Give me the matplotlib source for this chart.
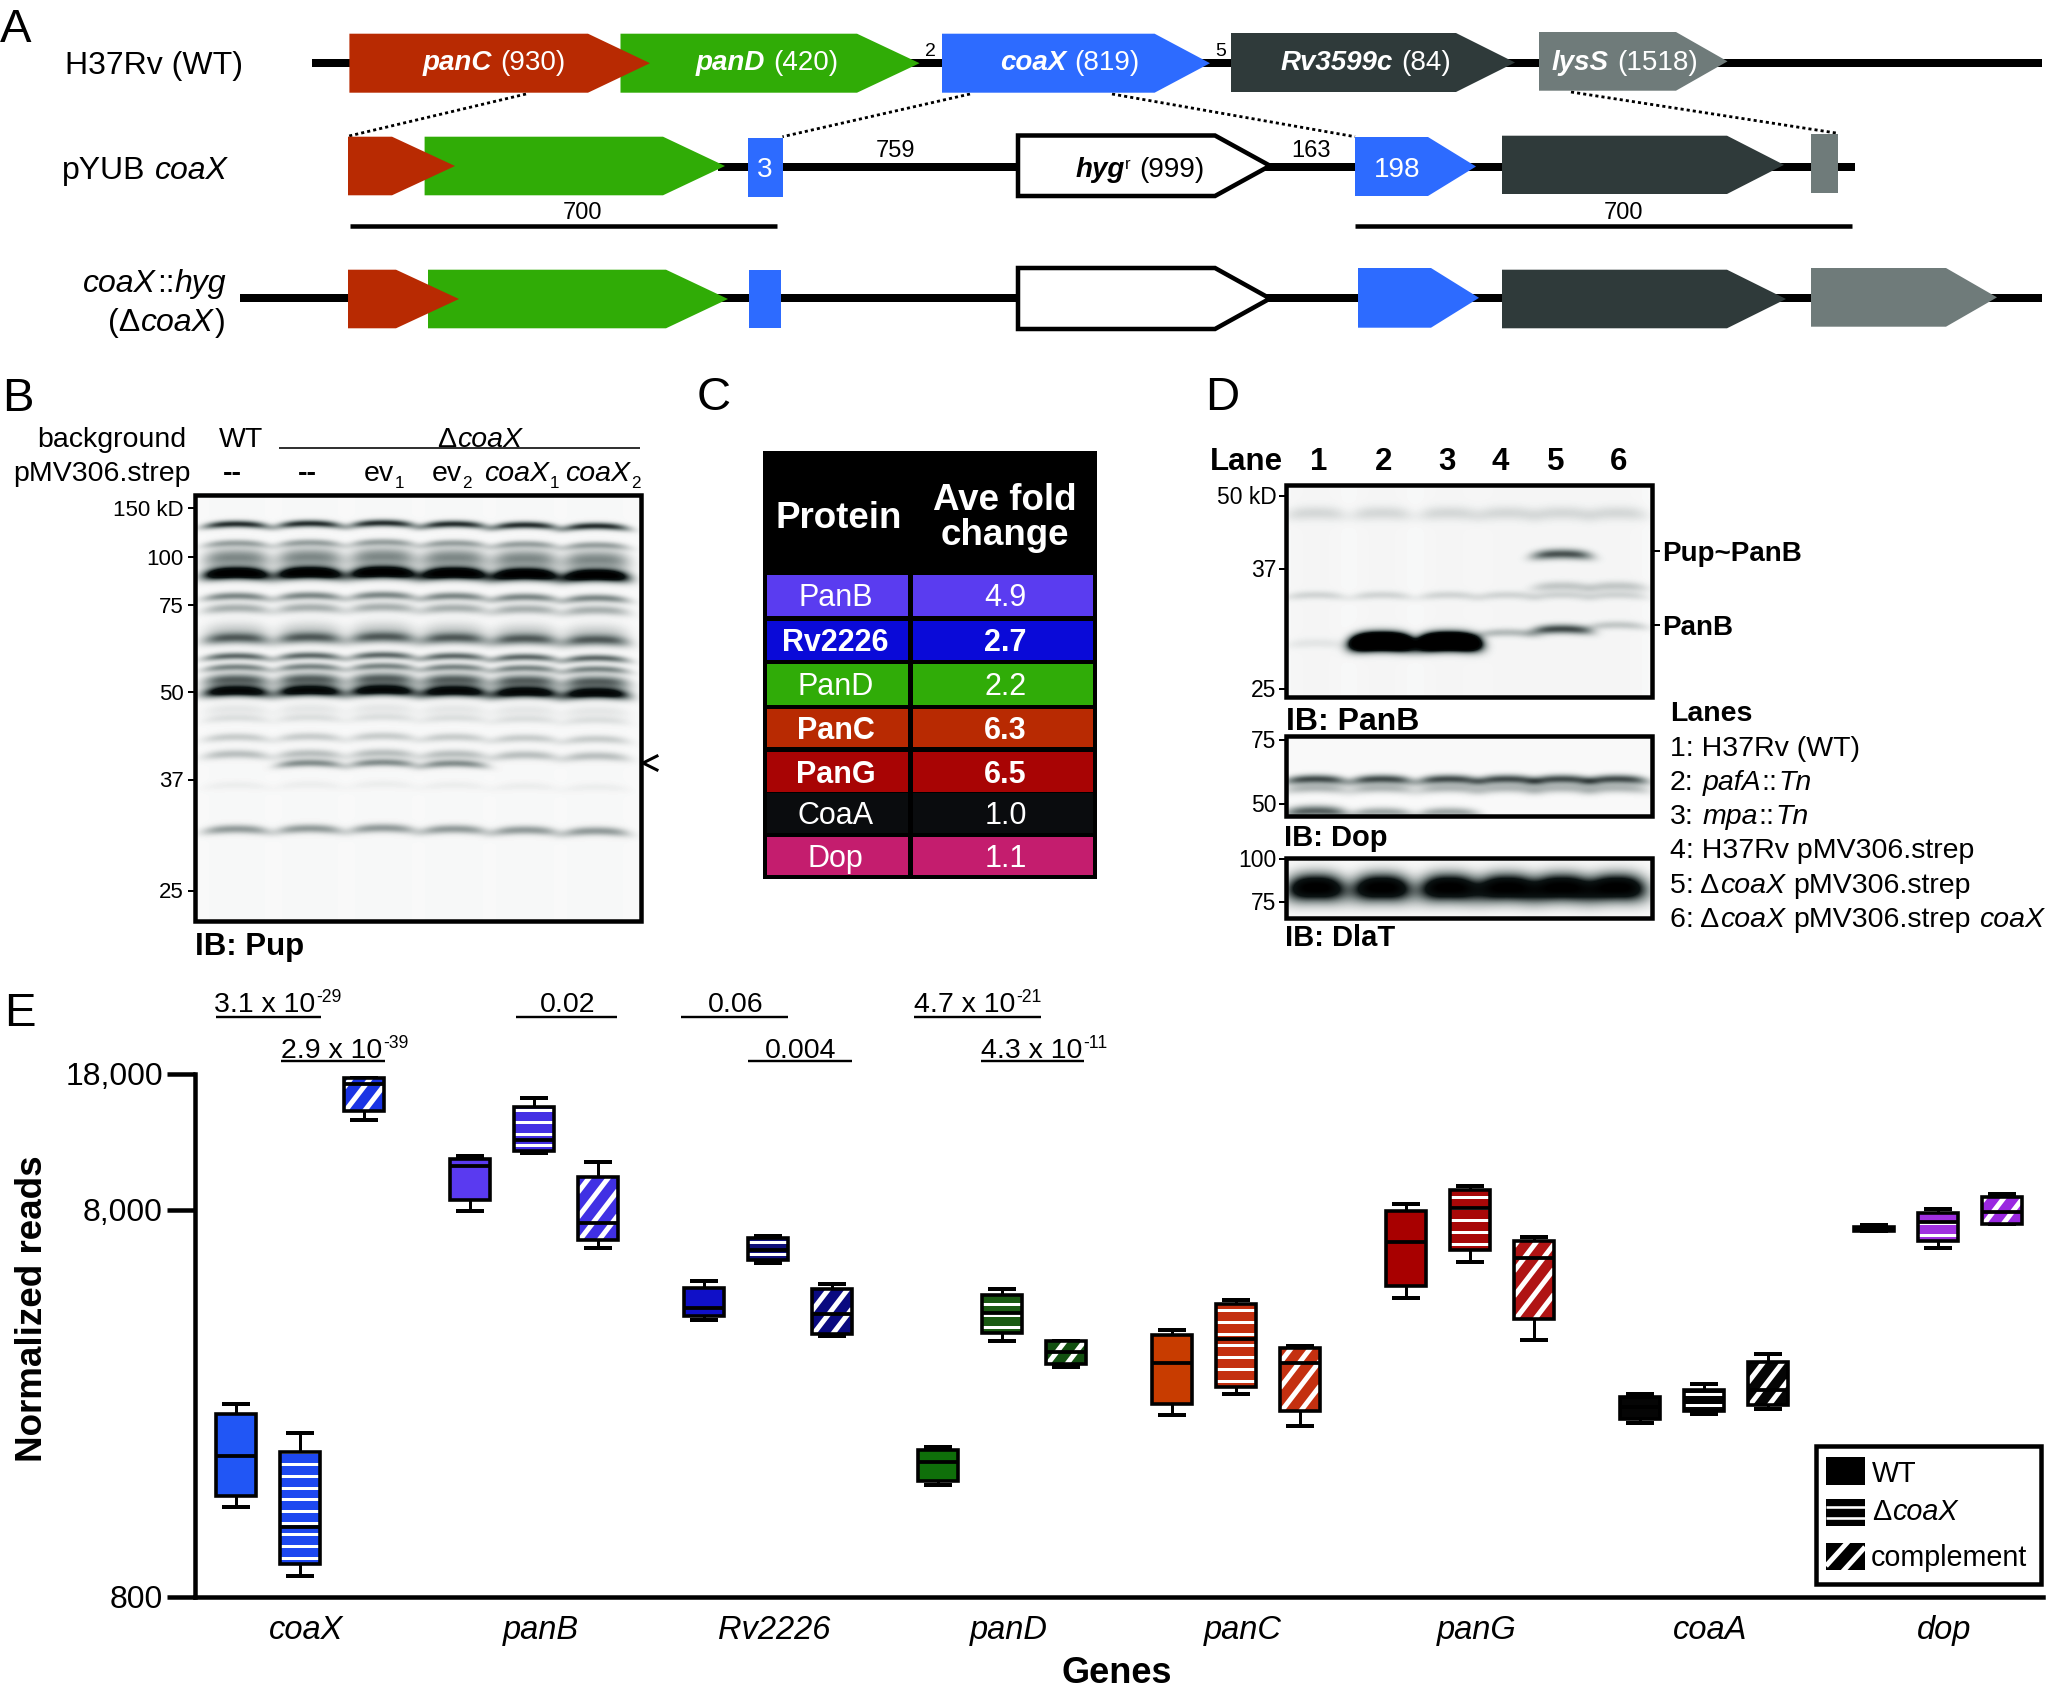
import numpy as np
import matplotlib
matplotlib.use('Agg')
import matplotlib.pyplot as plt
from matplotlib.patches import Polygon, Rectangle, PathPatch
from matplotlib.transforms import IdentityTransform
from matplotlib.colors import LinearSegmentedColormap

plt.rcParams['font.family'] = ['Liberation Sans', 'DejaVu Sans']

# ---------- panel E data: [whisker low, Q1, median, Q3, whisker high] for WT, deltaCoaX, complement
gene_names = ['coaX', 'panB', 'Rv2226', 'panD', 'panC', 'panG', 'coaA', 'dop']
coaX_reads = [[1368, 1462, 1854, 2377, 2523], [906, 975, 1216, 1892, 2128], [13700, 14450, 16900, 17540, 17540]]
panB_reads = [[7930, 8490, 10380, 10860, 11020], [11200, 11350, 12130, 14750, 15600], [6380, 6680, 7400, 9750, 10620]]
Rv2226_reads = [[4150, 4250, 4470, 5020, 5250], [5850, 5940, 6310, 6760, 6870], [3770, 3830, 4300, 5000, 5160]]
panD_reads = [[1556, 1596, 1782, 1923, 1950], [3673, 3846, 4325, 4820, 5000], [3148, 3199, 3443, 3673, 3680]]
panC_reads = [[2366, 2518, 3228, 3802, 3917], [2679, 2799, 3707, 4571, 4677], [2213, 2421, 3228, 3524, 3556]]
panG_reads = [[4753, 5082, 6622, 7962, 8279], [5861, 6324, 8110, 9036, 9204], [3681, 4178, 5998, 6668, 6808]]
coaA_reads = [[2259, 2301, 2472, 2624, 2673], [2377, 2415, 2553, 2742, 2838], [2449, 2500, 2735, 3243, 3396]]
dop_reads = [[7079, 7079, 7161, 7244, 7328], [6368, 6653, 7464, 7870, 8054], [7345, 7345, 7925, 8650, 8810]]
all_reads = [coaX_reads, panB_reads, Rv2226_reads, panD_reads, panC_reads, panG_reads, coaA_reads, dop_reads]
box_colors = [['#2156f5', '#1e48f0', '#1a34e4'], ['#5a3af0', '#4430e4', '#4030e4'],
              ['#1010c8', '#10107a', '#0a0a80'], ['#0f6f0a', '#1a5a12', '#125010'],
              ['#c83c00', '#c43010', '#c43010'], ['#a80000', '#a80808', '#b01414'],
              ['#050505', '#050505', '#050505'], ['#111111', '#a030e0', '#9a28e0']]
y_ticks = [800, 8000, 18000]
y_tick_labels = ['800', '8,000', '18,000']

# ---------- panel C data
table_proteins = ['PanB', 'Rv2226', 'PanD', 'PanC', 'PanG', 'CoaA', 'Dop']
table_folds = ['4.9', '2.7', '2.2', '6.3', '6.5', '1.0', '1.1']
table_bold = [False, True, False, True, True, False, False]
table_colors = ['#5a3cf0', '#0a0ad8', '#30ac08', '#b82a02', '#a80404', '#0a0c0e', '#c41d6e']

# ---------- blot data: centre row (figure pixels), density, spread, lanes (None = all)
pup_bands = [(524, .58, 2.6, None), (543, .24, 2.6, None), (557.5, .34, 6.5, None), (573, 1.1, 4.2, None),
             (596, .34, 2.8, None), (608, .22, 3.4, None), (630, .12, 6, None), (638, .42, 4, None),
             (656, .42, 2.6, None), (667, .34, 2.6, None), (678, .16, 3.5, None), (681, .32, 5, None),
             (691, .85, 3.8, None), (709, .05, 4, None), (718, .07, 3, None), (737, .13, 3, None),
             (754, .17, 3.2, None), (763.4, .32, 2.8, [1, 2, 3]), (785, .03, 3, None), (829, .28, 3.2, None)]
panb_bands = [(513, .09, 5, None), (595, .1, 3, None), (554, .48, 3.6, [4]), (586, .14, 3.5, [4, 5]),
              (641.4, 2.6, 5.5, [1, 2]), (632.5, .18, 3, [3]), (629, .5, 3.4, [4]), (625, .14, 3, [5]),
              (643, .05, 3.5, [0])]
dop_bands = [(779, .5, 3.2, None), (788, .2, 3.5, None), (811, .45, 4, [0]), (812, .25, 3.5, [1, 2])]
dlat_bands = [(888, 1.05, 9.5, None)]

W, H = 2048, 1697
fig = plt.figure(figsize=(W / 100, H / 100), dpi=100, facecolor='white')
ov = fig.add_axes([0, 0, 1, 1], zorder=5)
ov.set_xlim(0, W); ov.set_ylim(H, 0); ov.axis('off')
rend = fig.canvas.get_renderer()
L = lambda px: px * 0.72

STY = {'r': dict(), 'i': dict(style='italic'), 'b': dict(weight='bold'),
       'bi': dict(weight='bold', style='italic')}


def runs(x, y, segs, size, ha='left', color='k', target=ov, z=6):
    """Write mixed-style text whose cap-height centre sits on y."""
    px = size / 0.72
    items = []
    total = 0
    for s in segs:
        txt, sty = s[0], s[1]
        sc = s[2] if len(s) > 2 else 1
        dy = s[3] if len(s) > 3 else 0
        lead = .278 * px * (len(txt) - len(txt.lstrip(' ')))
        trail = .278 * px * (len(txt) - len(txt.rstrip(' ')))
        t = target.text(0, 0, txt.strip(), fontsize=size * sc, **STY[sty])
        w = t.get_window_extent(rend).width
        t.remove()
        items.append((txt.strip(), sty, sc, dy, lead, w))
        total += lead + w + trail + .02 * px
    cx = {'left': x, 'center': x - total / 2, 'right': x - total}[ha]
    base = y + .358 * px
    for (txt, sty, sc, dy, lead, w), s in zip(items, segs):
        cx += lead
        target.text(cx, base + dy, txt, fontsize=size * sc, color=color, ha='left', va='baseline', zorder=z, **STY[sty])
        raw = s[0]
        cx += w + .02 * px + .278 * px * (len(raw) - len(raw.rstrip(' ')))


def gene(x0, sh, tip, y0, y1, c, z=3, ec='none', lw=0):
    ov.add_patch(Polygon([(x0, y0), (sh, y0), (tip, (y0 + y1) / 2), (sh, y1), (x0, y1)], closed=True,
                         facecolor=c, edgecolor=ec, linewidth=L(lw), zorder=z, joinstyle='miter'))


def rect(x0, y0, x1, y1, fc='none', ec='none', lw=0, z=3):
    p = Rectangle((x0, y0), x1 - x0, y1 - y0, facecolor=fc, edgecolor=ec, linewidth=L(lw), zorder=z,
                  joinstyle='miter')
    ov.add_patch(p)
    return p


def hline(x0, x1, y, lw, c='k', z=2, **k):
    ov.plot([x0, x1], [y, y], color=c, lw=L(lw), zorder=z, solid_capstyle='butt', **k)


RED, GRN, BLU, DRK, GRY = '#b82a02', '#30ac06', '#2d6bff', '#2f3a3a', '#6f7b7a'

# ---------- panel A
for txt, x, y in [('A', 0, 25), ('B', 2, 394), ('C', 697, 393), ('D', 1205, 393), ('E', 4, 1009)]:
    runs(x, y, [(txt, 'r')], 34)

hline(312, 2042, 63.3, 8)
gene(620.5, 857, 919.6, 33.7, 92.7, GRN, z=3)
gene(349.4, 588, 650, 33.7, 92.7, RED, z=4)
gene(942, 1154.6, 1210, 33.7, 92.7, BLU)
gene(1231, 1456, 1515, 33, 92, DRK)
gene(1539, 1676, 1727.5, 32, 90.7, GRY)
AS = 20
runs(494, 60, [('panC', 'bi'), (' (930)', 'r')], AS, 'center', 'w')
runs(767, 60, [('panD', 'bi'), (' (420)', 'r')], AS, 'center', 'w')
runs(1070, 60, [('coaX', 'bi'), (' (819)', 'r')], AS, 'center', 'w')
runs(1366, 60, [('Rv3599c', 'bi'), (' (84)', 'r')], AS, 'center', 'w')
runs(1625, 60, [('lysS', 'bi'), (' (1518)', 'r')], AS, 'center', 'w')
runs(931, 49, [('2', 'r')], 14, 'center')
runs(1221, 49, [('5', 'r')], 14, 'center')
runs(65, 63, [('H37Rv (WT)', 'r')], 23)
runs(62, 168, [('pYUB ', 'r'), ('coaX', 'i')], 23)
runs(227, 281, [('coaX', 'i'), ('::', 'r'), ('hyg', 'i')], 23, 'right')
runs(226, 320, [('(Δ', 'r'), ('coaX', 'i'), (')', 'r')], 23, 'right')

hline(718, 1855, 167, 8)
gene(424.6, 663, 725, 136.7, 195.3, GRN, z=3)
gene(348, 392, 455, 136.7, 195.3, RED, z=4)
rect(748, 137.7, 782.5, 196.7, fc=BLU)
runs(765, 167, [('3', 'r')], AS, 'center', 'w')
gene(1018, 1215, 1270, 135.5, 196, 'w', ec='k', lw=4.5)
runs(1140, 167, [('hyg', 'bi'), ('r', 'r', .6, -8), (' (999)', 'r')], AS, 'center')
runs(896, 149, [('759', 'r')], 17, 'center')
runs(1311, 149, [('163', 'r')], 17, 'center')
gene(1355, 1428, 1476, 137, 196, BLU)
runs(1397.6, 167, [('198', 'r')], AS, 'center', 'w')
gene(1502, 1727, 1784, 135.7, 194, DRK)
rect(1811, 134, 1838, 192.7, fc=GRY)
hline(350, 777, 225.7, 4.5)
hline(1355, 1852, 225.7, 4.5)
runs(583, 210.7, [('700', 'r')], 17, 'center')
runs(1624, 210.7, [('700', 'r')], 17, 'center')
for a, b in [((526, 94), (349, 136)), ((970, 94), (782.5, 136.7)), ((1112, 94), (1355, 136.7)), ((1571, 92), (1836, 133))]:
    ov.plot([a[0], b[0]], [a[1], b[1]], color='k', lw=L(2.8), ls=(0, (1.1, 1.1)), zorder=2)

hline(240, 2042, 298.3, 8)
gene(428, 666, 728, 269.7, 328.3, GRN, z=3)
gene(348, 396, 459, 269.7, 328.3, RED, z=4)
rect(749, 269.7, 781, 328.3, fc=BLU)
gene(1018, 1215, 1270, 268, 329, 'w', ec='k', lw=4.5)
gene(1358, 1431, 1479, 268, 327.7, BLU)
gene(1502, 1727, 1786, 269.7, 328.3, DRK)
gene(1811, 1946, 1997, 268, 326.7, GRY)

# ---------- blots
blot_cmap = LinearSegmentedColormap.from_list('blot', ['#fcfcfc', '#86908f', '#0c1414', '#000000'])


def blot(l, t, r, b, lanes, hw, bands, lane_dy=None, haze=0.0, frame=4.5, power=4, curve=.0025):
    xs = np.arange(l, r) + .5
    ys = np.arange(t, b) + .5
    X, Y = np.meshgrid(xs, ys)
    lane_dy = lane_dy or [0] * len(lanes)
    od = np.full(X.shape, .008)
    for i, c in enumerate(lanes):
        lat = np.exp(-(np.abs(X - c) / hw) ** power)
        od += haze * lat
        for y0, amp, sig, sel in bands:
            if sel is None or i in sel:
                dy = Y - y0 - lane_dy[i] - curve * (X - c) ** 2
                od += amp * lat * np.exp(-.5 * (dy / sig) ** 2)
    ov.imshow(np.clip(od, 0, 1), extent=(l, r, b, t), aspect='auto', cmap=blot_cmap, vmin=0, vmax=1, zorder=1,
              interpolation='bilinear')
    rect(l, t, r, b, ec='k', lw=frame, z=3)


# panel B
blot(195, 495, 641, 921, [236.6, 310, 383, 454, 525, 596], 33, pup_bands, lane_dy=[0, -.5, -1, 0, 1, 2], haze=.006)
FS = 20.5
runs(186.6, 437, [('background', 'r')], FS, 'right')
runs(191.5, 471, [('pMV306.strep', 'r')], FS, 'right')
runs(241, 437, [('WT', 'r')], FS, 'center')
runs(480, 437, [('Δ', 'r'), ('coaX', 'i')], FS, 'center')
hline(279, 640, 448, 1.6)
runs(233, 471, [('--', 'b')], FS, 'center')
runs(308, 471, [('--', 'b')], FS, 'center')
runs(384, 471, [('ev', 'r'), ('1', 'r', .6, 7)], FS, 'center')
runs(452, 471, [('ev', 'r'), ('2', 'r', .6, 7)], FS, 'center')
runs(522, 471, [('coaX', 'i'), ('1', 'r', .6, 7)], FS, 'center')
runs(603, 471, [('coaX', 'i'), ('2', 'r', .6, 7)], FS, 'center')
for lab, y in [('150 kD', 508), ('100', 557), ('75', 605), ('50', 692), ('37', 779.5), ('25', 890.5)]:
    runs(184, y, [(lab, 'r')], 16, 'right')
    hline(187.5, 195, y, 2)
ov.plot([657, 643, 657], [756, 763, 770], color='k', lw=L(3), zorder=4)
runs(195, 944, [('IB: Pup', 'b')], 22.5)

# panel C
rect(763, 451, 1097, 879, fc='k', z=2)
row_edges = [(575, 616), (620.7, 660), (664, 705), (709.3, 746.7), (751.7, 792), (793.3, 833.3), (837.3, 875)]
runs(839, 515, [('Protein', 'b')], 26.5, 'center', 'w')
runs(1005, 496.7, [('Ave fold', 'b')], 26.5, 'center', 'w')
runs(1005, 531.7, [('change', 'b')], 26.5, 'center', 'w')
for prot, fold, bld, col, (y0, y1) in zip(table_proteins, table_folds, table_bold, table_colors, row_edges):
    rect(766.7, y0, 908.3, y1, fc=col)
    rect(913, y0, 1092.7, y1, fc=col)
    st = 'b' if bld else 'r'
    runs(836, (y0 + y1) / 2, [(prot, st)], 22, 'center', 'w')
    runs(1005.7, (y0 + y1) / 2, [(fold, st)], 22, 'center', 'w')

# panel D
d_lanes = [1316, 1382, 1449, 1507, 1562, 1617]
blot(1286, 485, 1652, 697, d_lanes, 30, panb_bands, haze=.012)
blot(1286, 736, 1652, 816, d_lanes, 31, dop_bands)
blot(1286, 857.5, 1652, 918, d_lanes, 29, dlat_bands, power=3)
runs(1210, 459, [('Lane', 'b')], 22.5)
for n, x in zip('123456', [1319.5, 1384, 1447, 1501, 1556.5, 1619]):
    runs(x, 459, [(n, 'b')], 22.5, 'center')
for lab, y in [('50 kD', 496), ('37', 569), ('25', 688.6), ('75', 740), ('50', 804), ('100', 858.6), ('75', 902)]:
    runs(1277, y, [(lab, 'r')], 16.5, 'right')
    hline(1278.5, 1286, y, 2)
for lab, y in [('Pup~PanB', 551), ('PanB', 625)]:
    runs(1662, y, [(lab, 'b')], 20)
    hline(1652, 1660, y, 2)
runs(1286, 719, [('IB: PanB', 'b')], 23)
runs(1284, 836, [('IB: Dop', 'b')], 21)
runs(1285, 936, [('IB: DlaT', 'b')], 21)
runs(1670, 711, [('Lanes', 'b')], 20.5)
DS = 20.5
runs(1670, 746, [('1: H37Rv (WT)', 'r')], DS)
runs(1670, 780, [('2: ', 'r'), ('pafA', 'i'), ('::', 'r'), ('Tn', 'i')], DS)
runs(1670, 814, [('3: ', 'r'), ('mpa', 'i'), ('::', 'r'), ('Tn', 'i')], DS)
runs(1670, 848, [('4: H37Rv pMV306.strep', 'r')], DS)
runs(1670, 883, [('5: Δ', 'r'), ('coaX', 'i'), (' pMV306.strep', 'r')], DS)
runs(1670, 917, [('6: Δ', 'r'), ('coaX', 'i'), (' pMV306.strep ', 'r'), ('coaX', 'i')], DS)

# ---------- panel E
ax = fig.add_axes([195 / W, 1 - 1597 / H, (2043 - 195) / W, (1597 - 1073.7) / H], zorder=1)
ax.patch.set_alpha(0)
ax.set_yscale('log')
ax.set_ylim(800, 18000)
group_step = 234 / 64
ax.set_xlim(-105 / 64, (2043 - 300) / 64)
for s in ['top', 'right']:
    ax.spines[s].set_visible(False)
for s in ['left', 'bottom']:
    ax.spines[s].set_linewidth(L(4.5))
ax.yaxis.set_minor_locator(matplotlib.ticker.NullLocator())
ax.set_yticks(y_ticks)
ax.set_yticklabels(y_tick_labels, fontsize=23)
ax.tick_params(axis='y', length=L(28), width=L(4.5), pad=L(4))
group_pos = np.arange(len(gene_names)) * group_step
ax.set_xticks(group_pos + 0.1)
ax.set_xticklabels(gene_names, fontsize=23.5, style='italic')
ax.tick_params(axis='x', length=0, pad=L(18))


def stripes(target, x0, x1, y0, y1, kind, clip, trans, lw_h=3.0, lw_d=5.0):
    """White pattern over [x0,x1]x[y0,y1], in the units of trans (pixels)."""
    if kind == 1:
        for y in np.arange(y0 + 6, y1, 11.7):
            ln, = target.plot([x0, x1], [y, y], color='w', lw=L(lw_h), transform=trans, zorder=2.5,
                              solid_capstyle='butt', scalex=False, scaley=False)
            ln.set_clip_path(clip)
    elif kind == 2:
        w = x1 - x0
        for b in np.arange(y0 - w * 1.3, y1, 25):
            ln, = target.plot([x0, x1], [b, b + 1.3 * w], color='w', lw=L(lw_d), transform=trans, zorder=2.5,
                              solid_capstyle='butt', scalex=False, scaley=False)
            ln.set_clip_path(clip)


for g, reads in enumerate(all_reads):
    for k, r in enumerate(reads):
        pos = group_pos[g] + (k - 1)
        st = dict(whislo=r[0], q1=r[1], med=r[2], q3=r[3], whishi=r[4], fliers=[])
        col = box_colors[g][k]
        out = ax.bxp([st], positions=[pos], widths=.625, patch_artist=True, showfliers=False,
                     capwidths=.38, manage_ticks=False,
                     boxprops=dict(facecolor=col, edgecolor='none', linewidth=0, zorder=2),
                     whiskerprops=dict(color='k', linewidth=L(3), zorder=1.5, solid_capstyle='butt'),
                     capprops=dict(color='k', linewidth=L(4), zorder=1.5),
                     medianprops=dict(color='k', linewidth=L(3.8), zorder=4, solid_capstyle='butt'))
        box = out['boxes'][0]
        (px0, py0), (px1, py1) = ax.transData.transform([(pos - .3125, r[1]), (pos + .3125, r[3])])
        stripes(ax, px0, px1, py0, py1, k, box, IdentityTransform())
        ax.add_patch(PathPatch(box.get_path(), transform=box.get_transform(), fill=False, edgecolor='k',
                               linewidth=L(3.6), zorder=3, joinstyle='miter'))

ov.text(33, 1309, 'Normalized reads', fontsize=26.5, weight='bold', rotation=90, ha='center', va='center', zorder=6)
runs(1117, 1670, [('Genes', 'b')], 26, 'center')

# p values
PS = 20.5
for lab, x, y, xa, xb in [('3.1 x 10', 214, 1002, 215.5, 321), ('4.7 x 10', 914, 1002, 914, 1041)]:
    sup = '-29' if x == 214 else '-21'
    runs(x, y, [(lab, 'r'), (sup, 'r', .62, -10)], PS)
    hline(xa, xb, 1017, 2.4)
for lab, x, y, xa, xb in [('2.9 x 10', 281, 1047.6, 281, 385), ('4.3 x 10', 981, 1047.6, 981, 1084)]:
    sup = '-39' if x == 281 else '-11'
    runs(x, y, [(lab, 'r'), (sup, 'r', .62, -10)], PS)
    hline(xa, xb, 1061, 2.4)
runs(568, 1002, [('0.02', 'r')], PS, 'center'); hline(516, 617, 1017, 2.4)
runs(736, 1002, [('0.06', 'r')], PS, 'center'); hline(680.6, 788, 1017, 2.4)
runs(801, 1047.6, [('0.004', 'r')], PS, 'center'); hline(748, 852, 1061, 2.4)

# legend
rect(1815.6, 1445.6, 2041, 1584, fc='w', ec='k', lw=4.5, z=5)
rect(1826, 1456.7, 1865, 1484.5, fc='k', z=6)
s1 = rect(1826, 1498.6, 1865, 1526, fc='k', z=6)
for y in [1507, 1517.5]:
    hline(1826, 1865, y, 2.6, c='w', z=7)
s2 = rect(1826, 1542.7, 1865, 1570, fc='k', z=6)
for b in [1572, 1596]:
    ln, = ov.plot([1826, 1865], [b - 6, b - 6 - 43], color='w', lw=L(5), zorder=7, solid_capstyle='butt')
    ln.set_clip_path(s2)
runs(1872, 1472, [('WT', 'r')], 20.7, z=8)
runs(1872, 1510, [('Δ', 'r'), ('coaX', 'i')], 20.7, z=8)
runs(1871, 1555.6, [('complement', 'r')], 20.7, z=8)

ov.set_xlim(0, W); ov.set_ylim(H, 0)
fig.savefig('out.png', dpi=100, facecolor='white')
